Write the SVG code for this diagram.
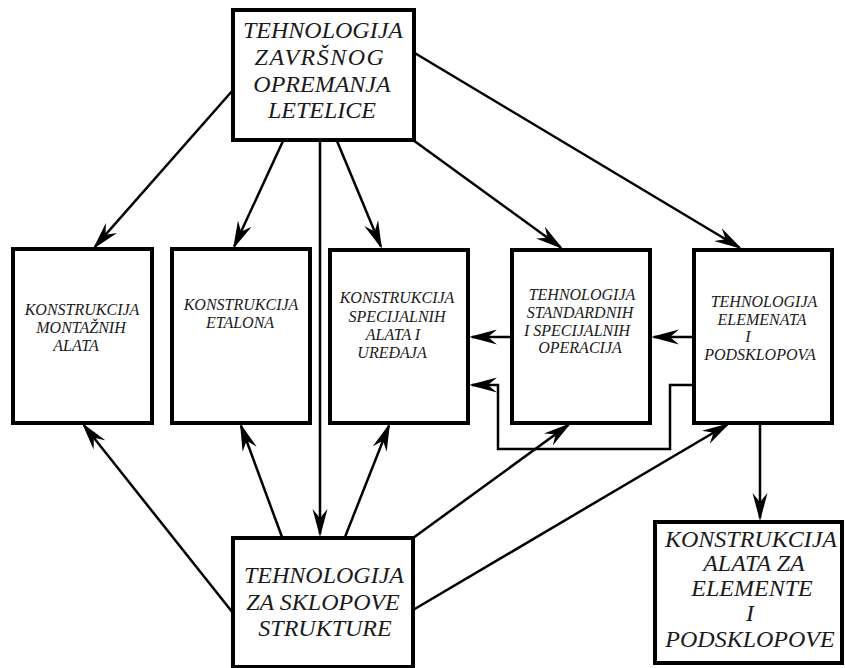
<svg xmlns="http://www.w3.org/2000/svg" width="845" height="668" viewBox="0 0 845 668">
  <defs>
    <style>
      .box { fill: #ffffff; stroke: #000000; stroke-width: 4; }
      .big { font-size: 24px; fill: #1a1a1a; text-anchor: middle; }
      .small { font-size: 16px; fill: #1a1a1a; text-anchor: middle; }
      .conn { fill: none; stroke: #000000; stroke-width: 2.5; marker-end: url(#arrow); }
    </style>
    <marker id="arrow" viewBox="0 0 28 16" refX="25" refY="8" markerWidth="28" markerHeight="16" markerUnits="userSpaceOnUse" orient="auto">
      <path d="M28,8 L0,0.5 L9,8 L0,15.5 Z" fill="#000000"/>
    </marker>
  </defs>

  <g id="connectors">
    <line class="conn" x1="233" y1="90" x2="95" y2="246.7"/>
    <line class="conn" x1="283" y1="141" x2="234.3" y2="246.3"/>
    <line class="conn" x1="337" y1="141" x2="380.8" y2="246.2"/>
    <line class="conn" x1="413" y1="140" x2="560.6" y2="247.2"/>
    <line class="conn" x1="413" y1="52" x2="739.4" y2="247.5"/>
    <line class="conn" x1="320" y1="140" x2="320" y2="534"/>
    <line class="conn" x1="233" y1="613" x2="83.9" y2="425.3"/>
    <line class="conn" x1="282" y1="537" x2="241" y2="425.8"/>
    <line class="conn" x1="345" y1="537" x2="388.9" y2="425.8"/>
    <line class="conn" x1="413" y1="538" x2="568.6" y2="424.8"/>
    <line class="conn" x1="413" y1="610" x2="727.4" y2="424.5"/>
    <line class="conn" x1="760" y1="423" x2="760" y2="518"/>
    <line class="conn" x1="512" y1="337" x2="472" y2="337"/>
    <line class="conn" x1="694" y1="337" x2="654" y2="337"/>
    <polyline class="conn" points="694,385 670,385 670,449 498,449 498,385 472,385"/>
  </g>

  <g font-family="Liberation Serif, DejaVu Serif, serif" font-style="italic">
  <g id="node-top">
    <rect class="box" x="233" y="10" width="181" height="130"/>
    <text class="big" x="323" y="38">TEHNOLOGIJA</text>
    <text class="big" x="320" y="65" letter-spacing="1.5">ZAVRŠNOG</text>
    <text class="big" x="322" y="92">OPREMANJA</text>
    <text class="big" x="322" y="118">LETELICE</text>
  </g>

  <g id="node-montazni">
    <rect class="box" x="13" y="249" width="139" height="174"/>
    <text class="small" x="82" y="315">KONSTRUKCIJA</text>
    <text class="small" x="81" y="333">MONTAŽNIH</text>
    <text class="small" x="76" y="351">ALATA</text>
  </g>

  <g id="node-etalon">
    <rect class="box" x="172" y="249" width="138" height="174"/>
    <text class="small" x="241" y="310">KONSTRUKCIJA</text>
    <text class="small" x="240" y="328">ETALONA</text>
  </g>

  <g id="node-specijalni">
    <rect class="box" x="330" y="250" width="138" height="173"/>
    <text class="small" x="397" y="303">KONSTRUKCIJA</text>
    <text class="small" x="397" y="322">SPECIJALNIH</text>
    <text class="small" x="393" y="340">ALATA I</text>
    <text class="small" x="392" y="358">UREĐAJA</text>
  </g>

  <g id="node-operacije">
    <rect class="box" x="512" y="250" width="138" height="173"/>
    <text class="small" x="582" y="300">TEHNOLOGIJA</text>
    <text class="small" x="580" y="318">STANDARDNIH</text>
    <text class="small" x="577" y="336">I SPECIJALNIH</text>
    <text class="small" x="580" y="353">OPERACIJA</text>
  </g>

  <g id="node-elementi">
    <rect class="box" x="694" y="250" width="138" height="173"/>
    <text class="small" x="764" y="307">TEHNOLOGIJA</text>
    <text class="small" x="762" y="325">ELEMENATA</text>
    <text class="small" x="748" y="342">I</text>
    <text class="small" x="760" y="360">PODSKLOPOVA</text>
  </g>

  <g id="node-sklopovi">
    <rect class="box" x="233" y="538" width="180" height="129"/>
    <text class="big" x="324" y="583">TEHNOLOGIJA</text>
    <text class="big" x="323" y="610">ZA SKLOPOVE</text>
    <text class="big" x="325" y="636">STRUKTURE</text>
  </g>

  <g id="node-alati-elementi">
    <rect class="box" x="655" y="522" width="187" height="141"/>
    <text class="big" x="751" y="547">KONSTRUKCIJA</text>
    <text class="big" x="754" y="571">ALATA ZA</text>
    <text class="big" x="752" y="596">ELEMENTE</text>
    <text class="big" x="750" y="621">I</text>
    <text class="big" x="750" y="647">PODSKLOPOVE</text>
  </g>
  </g>
</svg>
